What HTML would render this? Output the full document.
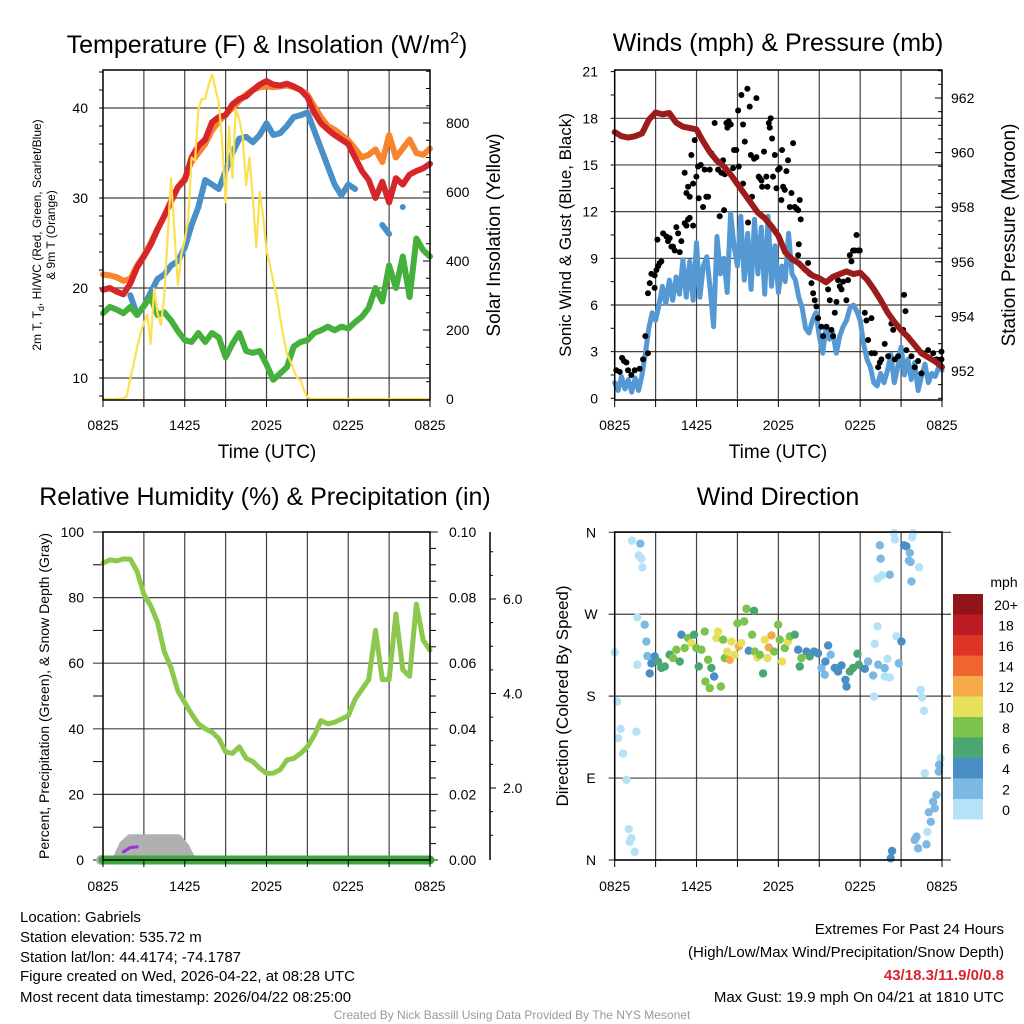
<!DOCTYPE html>
<html><head><meta charset="utf-8">
<style>
html,body{margin:0;padding:0;background:#fff;}
svg{display:block;font-family:"Liberation Sans",sans-serif;}
</style></head>
<body>
<svg id="c" width="1024" height="1024" viewBox="0 0 1024 1024" xmlns="http://www.w3.org/2000/svg">
<rect width="1024" height="1024" fill="#fff"/>
<!-- titles -->
<text x="267" y="53" font-size="25" text-anchor="middle">Temperature (F) &amp; Insolation (W/m<tspan font-size="16" dy="-10">2</tspan><tspan dy="10">)</tspan></text>
<text x="778" y="51" font-size="25" text-anchor="middle">Winds (mph) &amp; Pressure (mb)</text>
<text x="265" y="505" font-size="25" text-anchor="middle">Relative Humidity (%) &amp; Precipitation (in)</text>
<text x="778" y="505" font-size="25" text-anchor="middle">Wind Direction</text>
<!-- axis titles -->
<text transform="translate(41,235) rotate(-90)" font-size="12" text-anchor="middle">2m T, T<tspan font-size="9" dy="3">d</tspan><tspan dy="-3">, HI/WC (Red, Green, Scarlet/Blue)</tspan></text>
<text transform="translate(55,235) rotate(-90)" font-size="12" text-anchor="middle">&amp; 9m T (Orange)</text>
<text transform="translate(500,235) rotate(-90)" font-size="19" text-anchor="middle">Solar Insolation (Yellow)</text>
<text x="267" y="458" font-size="19" text-anchor="middle">Time (UTC)</text>
<text transform="translate(571,235) rotate(-90)" font-size="17" text-anchor="middle">Sonic Wind &amp; Gust (Blue, Black)</text>
<text transform="translate(1015,235) rotate(-90)" font-size="19" text-anchor="middle">Station Pressure (Maroon)</text>
<text x="778" y="458" font-size="19" text-anchor="middle">Time (UTC)</text>
<text transform="translate(49,696) rotate(-90)" font-size="14" text-anchor="middle">Percent, Precipitation (Green), &amp; Snow Depth (Gray)</text>
<text transform="translate(568,696) rotate(-90)" font-size="17" text-anchor="middle">Direction (Colored By Speed)</text>
<!-- footer -->
<g font-size="15">
<text x="20" y="922">Location: Gabriels</text>
<text x="20" y="942">Station elevation: 535.72 m</text>
<text x="20" y="962">Station lat/lon: 44.4174; -74.1787</text>
<text x="20" y="981">Figure created on Wed, 2026-04-22, at 08:28 UTC</text>
<text x="20" y="1002">Most recent data timestamp: 2026/04/22 08:25:00</text>
</g>
<g font-size="15" text-anchor="end">
<text x="1004" y="934">Extremes For Past 24 Hours</text>
<text x="1004" y="957">(High/Low/Max Wind/Precipitation/Snow Depth)</text>
<text x="1004" y="980" fill="#d7262a" font-weight="bold">43/18.3/11.9/0/0.8</text>
<text x="1004" y="1002">Max Gust: 19.9 mph On 04/21 at 1810 UTC</text>
</g>
<text x="512" y="1019" font-size="12" fill="#999" text-anchor="middle">Created By Nick Bassill Using Data Provided By The NYS Mesonet</text>
<g id="plots"></g>
</svg>
<script>
// ---------- data ----------
const timeLabels=['0825','1425','2025','0225','0825'];
const timeLabelHours=[0,6,12,18,24];
const tempTicks=[10,20,30,40];
const solarTicks=[0,200,400,600,800];
const windTicks=[0,3,6,9,12,15,18,21];
const pressTicks=[952,954,956,958,960,962];
const rhTicks=[0,20,40,60,80,100];
const precipTicks=['0.00','0.02','0.04','0.06','0.08','0.10'];
const snowTicks=['2.0','4.0','6.0'];
const snowTickValues=[2,4,6];
const dirTicks=[0,90,180,270,360];
const dirLabels=['N','E','S','W','N'];
const speedBins=['0','2','4','6','8','10','12','14','16','18','20+'];
const speedColors=['#b5e2f6','#7db8e2','#4a8ec6','#4aa772','#7cc24b','#e8e05a','#f5a948','#ef6530','#dd3428','#bd1c24','#8f1519'];

// 30-min series (49 pts)
const temp2m=[19.8,20.0,19.6,19.3,20.5,22.3,23.5,24.8,26.5,28.0,29.6,31.2,32.0,34.5,35.8,36.5,38.4,39.0,39.2,40.4,41.0,41.3,42.0,42.6,43.0,42.6,42.5,42.7,42.4,42.0,41.2,39.5,38.3,37.6,37.0,36.5,36.0,34.5,33.0,32.0,30.0,31.8,29.5,32.2,31.5,32.6,33.0,33.3,33.8];
const temp9m=[21.5,21.4,21.2,20.8,21.0,22.5,23.6,25.0,26.6,28.0,29.7,31.2,32.2,34.0,35.0,36.0,37.5,38.5,39.3,40.0,40.8,41.5,42.0,42.3,42.4,42.3,42.4,42.5,42.3,42.0,41.5,40.2,39.0,38.0,37.6,37.0,36.4,35.5,34.5,34.8,35.4,34.0,37.0,34.5,35.5,36.5,35.0,34.8,35.5];
const heatIndex=[null,null,null,null,19.2,17.0,18.0,19.5,21.0,21.5,22.5,23.0,24.5,27.0,29.0,32.0,31.5,31.0,33.0,35.0,36.6,36.8,36.2,37.0,38.3,37.0,37.2,38.0,39.0,39.2,39.5,37.5,35.5,33.5,31.5,30.3,31.5,31.0,null,null,null,27.0,26.0,null,29.0,null,null,null,null];
const dewpoint=[17.2,17.9,17.6,17.2,17.9,17.0,18.0,19.0,17.0,17.3,16.4,15.2,14.2,14.0,15.0,14.0,15.0,14.5,12.3,13.8,15.0,13.0,12.8,13.0,11.5,9.8,10.5,11.2,13.5,14.0,14.2,15.0,15.3,15.7,15.3,15.7,15.5,16.2,16.8,17.8,20.0,18.5,22.5,20.0,23.5,19.0,25.5,24.2,23.5];
// 15-min solar (97 pts)
const solar=[0,0,0,0,0,0,2,8,60,100,150,190,220,245,160,320,250,215,300,470,640,480,330,420,460,520,700,690,840,870,870,910,940,900,860,740,570,790,640,840,810,760,620,700,580,440,600,530,430,390,340,300,235,180,132,110,84,60,55,25,5,0,0,0,0,0,0,0,0,0,0,0,0,0,0,0,0,0,0,0,0,0,0,0,0,0,0,0,0,0,0,0,0,0,0,0,0];
// 15-min sonic wind (97 pts)
const windSpeed=[1.0,0.5,1.4,0.6,1.2,0.4,1.3,0.5,1.5,2.9,4.5,5.5,5.0,6.0,7.2,6.1,7.6,6.3,7.8,6.7,8.9,6.5,8.8,6.3,10.0,6.5,8.5,9.1,7.0,4.6,10.4,8.0,9.0,6.8,11.9,9.8,8.5,11.7,7.6,10.6,7.0,11.5,8.0,11.0,6.7,11.7,7.2,9.8,6.8,8.5,7.5,10.6,8.0,7.6,6.5,5.8,4.5,4.2,5.0,5.5,4.0,2.9,4.6,3.8,4.2,2.9,4.0,4.6,5.0,5.8,6.0,5.6,5.0,3.5,2.5,2.0,1.0,0.8,1.6,1.0,1.8,2.8,1.0,2.0,3.3,1.5,2.5,1.2,2.3,0.5,1.4,2.2,1.0,1.6,1.4,2.0,1.8];
const gustHours=[0.12,0.37,0.54,0.68,0.86,0.98,1.22,1.47,1.83,2.08,2.25,2.44,2.44,2.57,2.69,2.93,2.93,3.06,3.13,3.18,3.30,3.42,3.55,3.79,3.91,4.03,4.16,4.28,4.40,4.52,4.65,4.77,4.89,5.13,5.26,5.38,5.50,5.75,5.13,5.26,5.38,5.50,5.62,5.75,5.87,5.99,6.11,6.16,6.31,6.48,6.60,6.72,6.85,6.97,7.09,7.33,7.46,7.58,7.70,7.82,7.95,8.02,8.07,8.19,8.26,8.36,8.51,8.68,8.75,8.92,9.05,9.10,9.29,9.41,9.41,9.54,9.73,9.78,9.90,9.98,10.07,10.22,10.39,10.39,10.56,10.64,10.76,10.81,10.95,11.12,11.20,11.30,11.37,11.44,11.54,11.61,11.74,11.86,11.98,12.10,12.22,12.27,12.35,12.47,12.59,12.71,12.84,12.96,13.08,13.20,13.33,13.45,13.57,13.64,13.50,13.45,14.18,14.30,14.43,14.55,14.67,14.79,14.91,15.16,15.28,15.53,15.65,15.77,15.89,16.01,16.14,16.26,16.38,16.50,16.63,16.75,16.99,17.11,17.24,17.36,17.48,17.60,17.73,17.85,17.97,18.34,18.46,18.83,18.58,18.83,19.07,19.32,19.44,19.56,19.80,20.05,20.29,20.42,20.54,20.78,21.15,21.22,21.32,21.39,21.76,22.00,22.25,22.49,22.62,22.98,23.35,23.59,23.96,23.96];
const gustMph=[1.8,1.7,2.6,2.4,2.3,1.8,1.5,1.8,1.9,2.5,4.0,2.9,6.75,7.4,8.0,7.1,7.9,8.25,10.2,8.5,8.7,8.8,10.6,10.4,10.1,10.3,9.75,9.75,9.5,11.0,10.6,9.4,10.1,11.25,11.1,11.5,11.6,11.1,14.5,13.2,13.6,12.96,15.64,13.8,16.6,14.25,14.9,12.86,15.0,12.3,14.7,12.96,12.96,14.7,15.75,17.7,15.3,14.7,11.7,14.5,15.3,12.1,14.4,17.7,17.4,17.8,17.6,14.8,15.96,15.96,18.5,14.9,19.5,17.6,13.8,16.5,19.9,11.3,18.75,15.64,12.96,15.4,19.3,15.5,14.25,14.15,14.0,13.6,15.86,14.25,13.6,17.7,17.4,18.0,16.7,14.25,15.64,13.5,14.7,14.8,12.75,15.96,13.6,13.4,14.6,15.3,12.3,13.2,16.4,12.3,12.2,12.1,12.75,11.5,9.9,9.2,8.7,8.0,7.4,6.75,6.3,5.9,5.15,4.6,4.0,4.6,7.0,6.3,4.4,4.0,5.5,6.2,7.6,7.2,7.0,7.5,6.3,7.6,9.2,8.8,9.5,9.5,10.5,9.5,9.5,5.5,5.0,5.15,3.75,2.9,2.9,2.0,2.3,2.5,3.5,2.7,4.8,4.4,2.5,2.7,4.4,6.65,5.6,3.1,2.7,2.0,2.4,1.6,2.9,3.1,2.9,2.5,2.5,3.0];
const pressure=[960.75,960.6,960.55,960.6,960.7,961.2,961.47,961.4,961.45,961.1,960.95,960.9,960.85,960.4,960.0,959.7,959.5,959.2,958.85,958.5,958.15,957.8,957.6,957.3,956.95,956.35,956.1,955.95,955.7,955.5,955.4,955.25,955.45,955.55,955.65,955.55,955.6,955.35,955.0,954.6,954.15,953.8,953.5,953.25,952.95,952.65,952.5,952.35,952.15];
const rh=[90.5,91.5,91.2,91.8,91.7,88,81,77.5,72.5,63.5,58.5,51.5,48,44.5,41.5,40,39,37,33,32.5,34.5,31,30,28,26.4,26.5,27.5,30.5,31,32.5,34.5,38,42.5,41.5,42,43,44,49,52,55,70,55,55,75,58,56,78,67,64];
const precip=[0,0,0,0,0,0,0,0,0,0,0,0,0,0,0,0,0,0,0,0,0,0,0,0,0,0,0,0,0,0,0,0,0,0,0,0,0,0,0,0,0,0,0,0,0,0,0,0,0];
const snowDepth=[0,0,0,4.5,6.5,6.5,6.5,6.5,6.5,6.5,6.5,6.5,4,0,0];
const snowAlt=[null,null,null,2.5,3.8,4.0,null];
// wind direction scatter
const dirHours=[1.27,1.88,1.76,1.96,2.03,1.66,2.2,2.32,0,2.4,1.66,2.57,0.17,0.44,0.24,1.59,0.61,0.86,1.03,1.22,1.1,1.47,2.93,2.69,3.18,3.42,3.67,4.03,4.28,4.52,4.77,4.89,5.13,5.38,5.62,5.82,5.99,6.16,6.36,6.6,6.65,6.85,6.97,7.09,7.29,7.46,7.58,7.78,7.95,8.07,8.26,8.44,8.56,8.8,9.0,9.1,9.29,9.49,9.66,9.83,10.07,10.22,10.27,10.46,10.64,10.88,11.0,11.2,11.3,11.5,11.69,11.98,12.1,12.27,12.47,12.71,12.84,13.2,13.45,13.57,13.69,14.06,14.3,14.62,14.91,15.16,15.45,15.4,15.65,15.84,16.14,16.38,16.63,16.92,17.0,17.24,17.48,17.8,17.9,18.34,18.58,18.95,19.27,19.07,19.32,19.8,20.0,20.17,19.8,20.66,21.03,20.83,19.02,19.44,19.5,20.49,20.54,21.22,21.39,21.64,21.57,21.7,21.88,21.81,22.32,20.17,19.27,19.6,21.76,22.44,22.54,22.69,22.74,23.9,23.79,23.76,23.59,23.35,23.47,23.03,23.18,22.93,22.13,22.0,22.25,22.86,20.34,20.24];
const dirDeg=[350.8,347.5,334.7,331,321.5,266.5,258.5,240,228,224,214.5,205,174,144,134,141,117,88,34,24,20,9,223.6,216,218,211,212.6,225.5,221.8,231,218,247.5,232.8,243.8,238.3,247.5,232.8,212.6,231,251,196,220,188.8,211,201.6,243.8,251,190.6,242,221.8,229,220,240,225.5,260,234.6,238.3,262,276,229.9,247.5,273.8,229,222.5,225.5,205,242,221.8,233.5,246.7,229,258.5,242,218,232.8,240,245.6,247.5,231,212.6,221.8,229,223.6,229,227,211,218,203.5,235.7,225.5,211,207,213.7,198,190.6,207,211,226.6,214.5,210,218,202.7,256.6,237.6,214.5,210.8,221,200.5,201.6,245.6,240,216,179.6,345.7,331,359,352,345.7,344.6,337.3,328.8,327.4,359,354.5,321.5,313.4,309,312.7,306,187,178.5,163.9,95.3,111.8,104.5,97,71.5,64,56.8,52.4,42,31,25.7,22,12.8,17.2,9.9,1.8];
const dirSpeed=[1,3,1,1,1,1,3,3,1,3,1,5,1,1,1,1,1,1,1,1,1,1,5,5,7,7,7,7,9,9,7,5,9,9,11,7,9,7,9,9,9,9,9,7,5,11,11,9,9,9,11,13,11,11,9,13,11,9,9,5,9,7,9,11,9,7,11,11,13,13,9,9,9,11,9,11,9,7,5,7,9,5,7,5,5,3,5,3,5,3,5,5,5,5,5,7,7,7,7,5,3,3,1,1,3,3,1,1,1,1,5,3,1,3,3,1,1,5,5,3,3,3,1,1,1,3,1,1,3,1,1,1,1,1,3,3,3,3,3,3,3,1,3,3,3,3,5,5];

// ---------- helpers ----------
const NS='http://www.w3.org/2000/svg';
const root=document.getElementById('plots');
function el(tag,attrs,parent){const e=document.createElementNS(NS,tag);for(const k in attrs)e.setAttribute(k,attrs[k]);(parent||root).appendChild(e);return e;}
function pathD(vals,step,xf,yf){let d='',pen=false;vals.forEach((v,i)=>{if(v==null){pen=false;return;}const c=xf(i*step).toFixed(1)+' '+yf(v).toFixed(1);d+=pen?('L'+c):('M'+c+'L'+c);pen=true;});return d;}
function txt(x,y,s,size,anchor,parent){const t=el('text',{x:x,y:y,'font-size':size,'text-anchor':anchor},parent);t.textContent=s;return t;}

// scales
const L={x0:103,x1:430};const R={x0:614.7,x1:942};
function xL(h){return L.x0+h/24*(L.x1-L.x0);}
function xR(h){return R.x0+h/24*(R.x1-R.x0);}
function yT(t){return 378-(t-10)*9;}
function yS(w){return 399-w*69/200;}
function yW(v){return 398.3-v*15.556;}
function yP(p){return 98+(962-p)*27.3;}
function yRH(v){return 860-v*3.28;}
function yD(d){return 860-d/360*327.7;}
function ySnowAx(v){return 882.5-v*47.25;}

const GRID='#222';
function frame(x0,y0,x1,y1,name){
  const g=el('g',{});
  
  
  for(let h=3;h<24;h+=3){const l=el('line',{x1:x0+h/24*(x1-x0),x2:x0+h/24*(x1-x0),y1:y0,y2:y1,stroke:GRID,'stroke-width':1.2,opacity:0.85},g);
    
    }
  return g;
}
function hgrid(g,x0,x1,y,name){const l=el('line',{x1:x0,x2:x1,y1:y,y2:y,stroke:GRID,'stroke-width':1.2,opacity:0.85},g);
  
  }
function border(x0,y0,x1,y1,name){const r=el('rect',{x:x0,y:y0,width:x1-x0,height:y1-y0,fill:'none',stroke:'#000','stroke-width':1.5});
  
  }
function xLabels(xf,yAxis,y,name){const g=el('g',{});
  
  
  timeLabels.forEach((s,i)=>{txt(xf(timeLabelHours[i]),y,s,14,'middle',g);});
  for(let h=0;h<=24;h+=3){el('line',{x1:xf(h),x2:xf(h),y1:yAxis,y2:yAxis+7,stroke:'#000'},g);}}

// ---------- Panel 1: temperature ----------
{
 const g=frame(L.x0,70,L.x1,400,'temp-grid');
 tempTicks.forEach(t=>hgrid(g,L.x0,L.x1,yT(t),'temp-gridline'));
 const lab=el('g',{});
 
 
 tempTicks.forEach(t=>{txt(88,yT(t)+5,String(t),14,'end',lab);});
 for(let t=8;t<=44;t+=2){el('line',{x1:L.x0-4,x2:L.x0,y1:yT(t),y2:yT(t),stroke:'#000'},lab);}
 const sl=el('g',{});
 
 
 solarTicks.forEach(w=>{txt(446,yS(w)+5,String(w),14,'start',sl);el('line',{x1:L.x1-7,x2:L.x1,y1:yS(w),y2:yS(w),stroke:'#000'},sl);});
 for(let w=50;w<=950;w+=50){el('line',{x1:L.x1-4,x2:L.x1,y1:yS(w),y2:yS(w),stroke:'#000'},sl);}
 const s1=el('path',{d:pathD(temp9m,0.5,xL,yT),fill:'none',stroke:'#f7852e','stroke-width':6,'stroke-linecap':'round','stroke-linejoin':'round'});
 
 
 const s2=el('path',{d:pathD(temp2m,0.5,xL,yT),fill:'none',stroke:'#d7262a','stroke-width':6,'stroke-linecap':'round','stroke-linejoin':'round'});
 
 
 const s3=el('path',{d:pathD(heatIndex,0.5,xL,yT),fill:'none',stroke:'#4a90c8','stroke-width':6,'stroke-linecap':'round','stroke-linejoin':'round'});
 
 
 const s4=el('path',{d:pathD(dewpoint,0.5,xL,yT),fill:'none',stroke:'#45b03c','stroke-width':6,'stroke-linecap':'round','stroke-linejoin':'round'});
 
 
 const s5=el('path',{d:pathD(solar,0.25,xL,yS),fill:'none',stroke:'#fbe050','stroke-width':2.2,'stroke-linejoin':'round'});
 
 
 border(L.x0,70,L.x1,400,'temp-plot-frame');
 xLabels(xL,400,430,'temp-x-tick-labels');
}
// ---------- Panel 2: winds ----------
{
 const g=frame(R.x0,70,R.x1,400,'wind-grid');
 windTicks.forEach(v=>{if(v>0&&v<21)hgrid(g,R.x0,R.x1,yW(v),'wind-gridline');});
 const lab=el('g',{});
 
 
 windTicks.forEach(v=>{txt(598,yW(v)+5,String(v),14,'end',lab);});
 for(let v=0;v<=21;v+=1.5){el('line',{x1:R.x0-4,x2:R.x0,y1:yW(v),y2:yW(v),stroke:'#000'},lab);}
 const pl=el('g',{});
 
 
 pressTicks.forEach(p=>{txt(951,yP(p)+5,String(p),14,'start',pl);el('line',{x1:R.x1-7,x2:R.x1,y1:yP(p),y2:yP(p),stroke:'#000'},pl);});
 for(let p=951;p<=963;p+=0.5){const y=yP(p);if(y>70&&y<400)el('line',{x1:R.x1-4,x2:R.x1,y1:y,y2:y,stroke:'#000'},pl);}
 const w=el('path',{d:pathD(windSpeed,0.25,xR,yW),fill:'none',stroke:'#5499d3','stroke-width':5,'stroke-linecap':'round','stroke-linejoin':'round'});
 
 
 const gg=el('g',{fill:'#000'});
 
 
 gustHours.forEach((h,i)=>{const c=el('circle',{cx:xR(h),cy:yW(gustMph[i]),r:3},gg);
   
   });
 const p=el('path',{d:pathD(pressure,0.5,xR,yP),fill:'none',stroke:'#9c1c1c','stroke-width':6,'stroke-linecap':'round','stroke-linejoin':'round'});
 
 
 border(R.x0,70,R.x1,400,'wind-plot-frame');
 xLabels(xR,400,430,'wind-x-tick-labels');
}
// ---------- Panel 3: RH ----------
{
 const g=frame(L.x0,532,L.x1,860,'rh-grid');
 rhTicks.forEach(v=>{hgrid(g,93,438,yRH(v),'rh-gridline');});
 const lab=el('g',{});
 
 
 rhTicks.forEach(v=>{txt(84,yRH(v)+5,String(v),14,'end',lab);});
 for(let v=10;v<100;v+=20){el('line',{x1:93,x2:L.x0,y1:yRH(v),y2:yRH(v),stroke:'#000'},lab);}
 const pl=el('g',{});
 
 
 precipTicks.forEach((s,i)=>{txt(449,yRH(i*20)+5,s,14,'start',pl);});
 for(let v=5;v<100;v+=5){if(v%20)el('line',{x1:L.x1,x2:L.x1+6,y1:yRH(v),y2:yRH(v),stroke:'#000'},pl);}
 const sa=el('g',{});
 
 
 el('line',{x1:490,x2:490,y1:532,y2:860,stroke:'#000','stroke-width':1.5},sa);
 snowTicks.forEach((s,i)=>{const y=ySnowAx(snowTickValues[i]);el('line',{x1:490,x2:496,y1:y,y2:y,stroke:'#000'},sa);txt(503,y+5,s,14,'start',sa);});
 for(let v=1;v<=7;v+=0.5){const y=ySnowAx(v);if(y>532&&y<860&&v%2)el('line',{x1:490,x2:493,y1:y,y2:y,stroke:'#000'},sa);}
 const sf=el('path',{d:pathD(snowDepth,0.5,xL,yRH)+'L'+xL(7).toFixed(1)+' 860L'+xL(1.2).toFixed(1)+' 860Z',fill:'#b0b0b0',stroke:'none'});
 
 
 const sn=el('path',{d:pathD(snowDepth,0.5,xL,yRH),fill:'none',stroke:'#b0b0b0','stroke-width':9,'stroke-linecap':'round','stroke-linejoin':'round'});
 
 
 const pu=el('path',{d:pathD(snowAlt,0.5,xL,yRH),fill:'none',stroke:'#9b30e0','stroke-width':3,'stroke-linecap':'round'});
 
 
 const gc=el('circle',{cx:xL(0)-2,cy:860,r:5,fill:'#b0b0b0'});
 
 
 const r=el('path',{d:pathD(rh,0.5,xL,yRH),fill:'none',stroke:'#8cc84b','stroke-width':5,'stroke-linecap':'round','stroke-linejoin':'round'});
 
 
 const pr=el('path',{d:pathD(precip,0.5,xL,yRH),fill:'none',stroke:'#3fa83d','stroke-width':9,'stroke-linecap':'round'});
 
 
 border(L.x0,532,L.x1,860,'rh-plot-frame');
 xLabels(xL,860,891,'rh-x-tick-labels');
}
// ---------- Panel 4: wind direction ----------
{
 const g=frame(R.x0,532,R.x1,860,'direction-grid');
 dirTicks.forEach(d=>{hgrid(g,R.x0-6,R.x1+9,yD(d),'direction-gridline');});
 const lab=el('g',{});
 
 
 dirTicks.forEach((d,i)=>{txt(591,yD(d)+5,dirLabels[i],14,'middle',lab);});
 const dg=el('g',{});
 
 
 dirHours.forEach((h,i)=>{const b=Math.min(10,Math.floor(dirSpeed[i]/2));
   const c=el('circle',{cx:xR(h),cy:yD(dirDeg[i]),r:4.2,fill:speedColors[b]},dg);
   
   });
 border(R.x0,532,R.x1,860,'direction-plot-frame');
 xLabels(xR,860,891,'direction-x-tick-labels');
 const cb=el('g',{});
 
 
 txt(1004,587,'mph',14,'middle',cb);
 speedBins.forEach((s,i)=>{const y=594+(10-i)*20.5;
   const r=el('rect',{x:953,y:y,width:30,height:20.5,fill:speedColors[i]},cb);
   
   
   txt(1006,y+16,s,14,'middle',cb);});
}
</script>
</body></html>
